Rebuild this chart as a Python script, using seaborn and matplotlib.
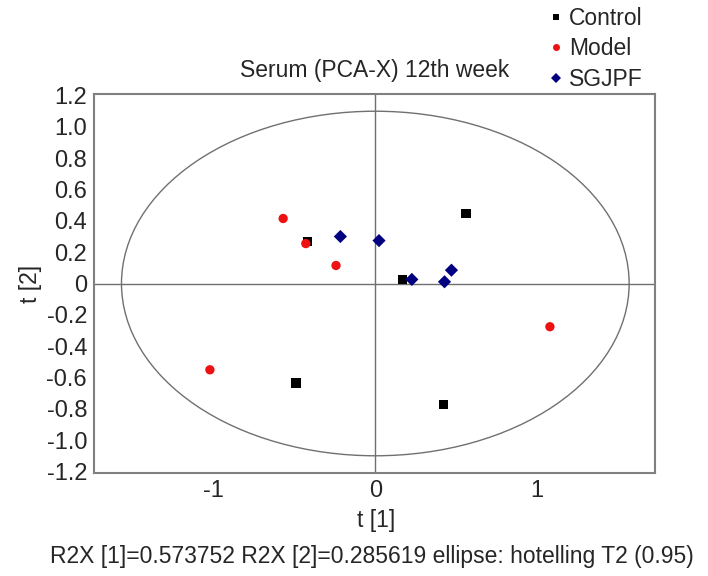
import numpy as np
import pandas as pd
import seaborn as sns
import matplotlib
matplotlib.use("Agg")
import matplotlib.pyplot as plt
from matplotlib.patches import Ellipse
from matplotlib.ticker import FixedLocator, MultipleLocator

# ---- data ----
groups = ["Control", "Model", "SGJPF"]
control_t1 = [-0.42, 0.56, 0.17, -0.49, 0.42]
control_t2 = [0.27, 0.445, 0.026, -0.636, -0.774]
model_t1 = [-0.57, -0.43, -0.243, -1.023, 1.08]
model_t2 = [0.415, 0.255, 0.115, -0.551, -0.276]
sgjpf_t1 = [-0.216, 0.023, 0.226, 0.428, 0.471]
sgjpf_t2 = [0.30, 0.274, 0.026, 0.011, 0.085]
ellipse_a, ellipse_b = 1.57, 1.10
y_ticks = [-1.2, -1.0, -0.8, -0.6, -0.4, -0.2, 0, 0.2, 0.4, 0.6, 0.8, 1.0, 1.2]
y_tick_labels = ["-1.2", "-1.0", "-0.8", "-0.6", "-0.4", "-0.2", "0",
                 "0.2", "0.4", "0.6", "0.8", "1.0", "1.2"]
x_ticks = [-1, 0, 1]
x_tick_labels = ["-1", "0", "1"]

df = pd.DataFrame({
    "t1": control_t1 + model_t1 + sgjpf_t1,
    "t2": control_t2 + model_t2 + sgjpf_t2,
    "group": ["Control"] * len(control_t1) + ["Model"] * len(model_t1) + ["SGJPF"] * len(sgjpf_t1),
})

sns.set_style("white")
plt.rcParams["font.family"] = ["Liberation Sans", "DejaVu Sans"]

fig = plt.figure(figsize=(7.08, 5.76), dpi=100)
ax = fig.add_axes([94 / 708, 1 - 473 / 576, (655 - 94) / 708, (473 - 94) / 576])

grey = "#808080"
ax.add_patch(Ellipse((0, 0), 2 * ellipse_a, 2 * ellipse_b, fill=False,
                     edgecolor="#707070", lw=1.0, zorder=1))
ax.axhline(0, color="#707070", lw=1.0, zorder=1)
ax.axvline(0, color="#707070", lw=1.0, zorder=1)

palette = {"Control": "#000000", "Model": "#ee1111", "SGJPF": "#000080"}
markers = {"Control": "s", "Model": "o", "SGJPF": "D"}
sns.scatterplot(data=df, x="t1", y="t2", hue="group", style="group",
                hue_order=groups, style_order=groups,
                palette=palette, markers=markers, s=45, linewidth=0,
                ax=ax, zorder=3)

ax.set_xlim(-1.74, 1.73)
ax.set_ylim(-1.21, 1.21)
ax.set_xticks(x_ticks)
ax.set_xticklabels(x_tick_labels)
ax.set_yticks(y_ticks)
ax.set_yticklabels(y_tick_labels)
ax.xaxis.set_minor_locator(FixedLocator([-1.5, -0.5, 0.5, 1.5]))
ax.yaxis.set_minor_locator(MultipleLocator(0.1))
ax.tick_params(axis="both", which="both", direction="in", color=grey,
               width=1, labelsize=17, pad=5)
ax.tick_params(which="major", length=3)
ax.tick_params(which="minor", length=2)
ax.set_xlabel("")
ax.set_ylabel("")
for sp in ax.spines.values():
    sp.set_color(grey)
    sp.set_linewidth(1.5)

sns.move_legend(ax, loc="upper left", bbox_to_anchor=(545 / 708, 1 - 2 / 576),
                bbox_transform=fig.transFigure, frameon=False, title=None,
                fontsize=16.5, handletextpad=0.25, labelspacing=0.33,
                markerscale=0.75, handlelength=0.6, borderaxespad=0,
                borderpad=0.2)

fig.text(375 / 708, 1 - 70 / 576, "Serum (PCA-X) 12th week", ha="center",
         va="center", fontsize=16.5)
fig.text(376 / 708, 1 - 521 / 576, "t [1]", ha="center", va="center", fontsize=16.5)
fig.text(30 / 708, 1 - 284 / 576, "t [2]", ha="center", va="center",
         fontsize=16.5, rotation=90)
fig.text(372 / 708, 1 - 556 / 576,
         "R2X [1]=0.573752 R2X [2]=0.285619 ellipse: hotelling T2 (0.95)",
         ha="center", va="center", fontsize=16.5)

fig.savefig("out.png", dpi=100)
